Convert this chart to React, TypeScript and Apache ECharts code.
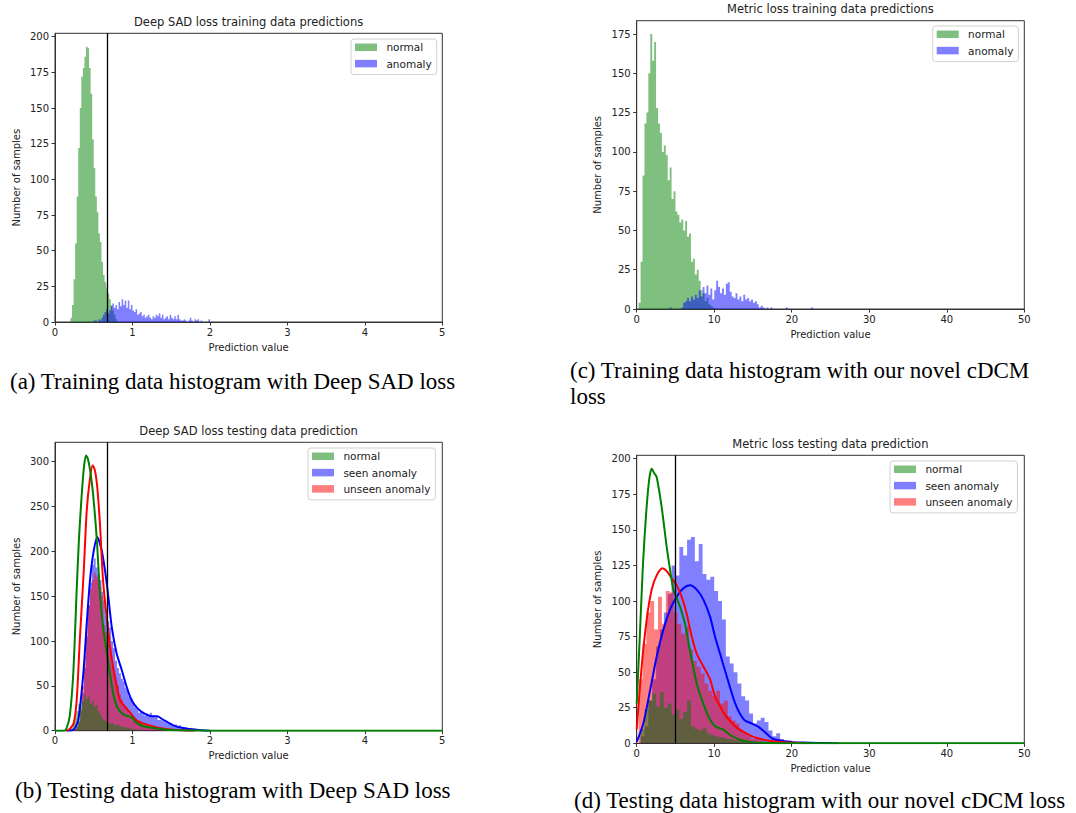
import React, { useEffect, useRef } from 'react';
import * as echarts from 'echarts';

// ---------------- Panel (a): Deep SAD loss – training data ----------------
const aBinWidth = 0.02;
const aNormalStart = 0.2;
const aNormalCounts = [3, 12, 30, 55, 88, 122, 150, 172, 178, 186, 193, 192, 178, 160, 128, 108, 88, 77, 62, 56, 42, 33, 28, 24, 20, 16, 12, 8, 5, 2];
const aAnomalyStart = 0.5;
const aAnomalyCounts = [1, 1, 0, 2, 1, 3, 5, 7, 9, 6, 8, 11, 13, 10, 12, 9, 14, 11, 16, 12, 15, 10, 15, 9, 12, 8, 7, 9, 5, 6, 7, 4, 5, 3, 4, 5, 3, 2, 4, 3, 5, 4, 6, 3, 5, 2, 3, 4, 2, 5, 3, 2, 4, 2, 5, 2, 1, 1, 2, 1, 0, 1, 3, 1, 0, 2, 1, 2, 0, 1, 0, 0, 0, 0, 2];
const aThreshold = 0.675;
const aYTicks = [0, 25, 50, 75, 100, 125, 150, 175, 200];

// ---------------- Panel (c): Metric loss – training data ----------------
const cBinWidth = 0.25;
const cNormalStart = 0.25;
const cNormalCounts = [4, 30, 85, 118, 125, 150, 175, 158, 170, 128, 118, 112, 100, 104, 98, 82, 90, 70, 75, 62, 60, 55, 57, 50, 56, 46, 48, 30, 32, 22, 25, 18, 12, 10, 5, 7, 3, 2, 1];
const cAnomalyStart = 4.25;
const cAnomalyCounts = [1, 0, 0, 0, 0, 0, 1, 4, 5, 7, 5, 8, 6, 9, 7, 12, 8, 14, 10, 15, 9, 13, 6, 12, 18, 14, 10, 13, 9, 16, 17, 11, 8, 7, 10, 6, 8, 5, 9, 6, 7, 5, 6, 4, 5, 3, 1, 2, 1, 0, 1, 0, 1, 0, 0, 0, 0, 0, 0, 0, 1, 0, 0, 0, 0, 0, 0, 0, 0, 0, 0, 0, 0, 1];
const cYTicks = [0, 25, 50, 75, 100, 125, 150, 175];

// ---------------- Panel (b): Deep SAD loss – testing data ----------------
const bBinWidth = 0.025;
const bSeenStart = 0.25;
const bSeenCounts = [2, 5, 10, 22, 42, 70, 105, 140, 165, 185, 192, 182, 175, 168, 155, 145, 128, 122, 115, 100, 92, 78, 70, 64, 58, 55, 48, 45, 38, 36, 30, 26, 24, 20, 21, 18, 17, 19, 16, 20, 17, 15, 16, 12, 12, 11, 10, 9, 8, 9, 7, 6, 7, 5, 6, 4, 3, 4, 2, 3, 2, 1, 2, 1, 1, 0, 1, 0, 1];
const bUnseenStart = 0.25;
const bUnseenCounts = [1, 4, 10, 25, 50, 85, 120, 140, 158, 168, 176, 172, 170, 160, 150, 118, 110, 100, 88, 75, 64, 56, 50, 40, 35, 30, 27, 22, 19, 16, 14, 12, 11, 10, 9, 8, 7, 6, 5, 4, 4, 3, 2, 2, 1, 1, 1];
const bNormalStart = 0.175;
const bNormalCounts = [1, 3, 8, 15, 22, 30, 38, 33, 40, 35, 38, 30, 33, 27, 28, 22, 18, 14, 12, 10, 9, 8, 9, 7, 6, 7, 5, 4, 5, 3, 4, 3, 2, 2, 2, 1, 1, 1, 1];
const bNormalKde = [[0, 0], [0.12, 0], [0.15, 3], [0.19, 16], [0.236, 64], [0.28, 157], [0.31, 215], [0.344, 262], [0.375, 295], [0.4, 307], [0.425, 303], [0.452, 291], [0.49, 265], [0.54, 213], [0.58, 153], [0.62, 116], [0.67, 86], [0.71, 64], [0.75, 42], [0.8, 27], [0.88, 18], [0.95, 16], [0.99, 15], [1.05, 9], [1.14, 5], [1.27, 3], [1.45, 1], [1.7, 0.3], [2.0, 0], [5, 0]];
const bSeenKde = [[0.15, 0], [0.237, 1], [0.3, 12], [0.366, 64], [0.41, 120], [0.452, 168], [0.495, 198], [0.546, 216], [0.603, 201], [0.645, 179], [0.689, 149], [0.732, 116], [0.796, 86], [0.861, 68], [0.925, 49], [0.99, 34], [1.054, 26], [1.119, 21], [1.183, 18], [1.25, 16], [1.32, 16], [1.4, 12], [1.528, 6], [1.657, 3], [1.83, 1], [2.0, 0]];
const bUnseenKde = [[0.15, 0], [0.19, 2], [0.24, 8], [0.28, 34], [0.32, 101], [0.37, 176], [0.41, 246], [0.45, 280], [0.486, 296], [0.516, 290], [0.546, 271], [0.58, 231], [0.62, 168], [0.67, 124], [0.71, 94], [0.75, 71], [0.8, 49], [0.84, 34], [0.9, 27], [0.97, 20], [1.05, 12], [1.18, 7], [1.35, 3], [1.53, 1], [1.8, 0]];
const bThreshold = 0.675;
const bYTicks = [0, 50, 100, 150, 200, 250, 300];

// ---------------- Panel (d): Metric loss – testing data ----------------
const dBinWidth = 0.5;
const dSeenStart = 0.5;
const dSeenCounts = [5, 12, 30, 45, 68, 80, 92, 105, 125, 118, 138, 132, 143, 145, 128, 140, 119, 115, 117, 107, 100, 87, 61, 56, 50, 42, 33, 30, 21, 14, 16, 18, 15, 9, 5, 7, 3, 2, 2, 1, 1, 0, 1, 0, 1, 0, 0, 1];
const dUnseenStart = 0.25;
const dUnseenCounts = [45, 70, 92, 100, 80, 103, 84, 107, 106, 92, 84, 77, 82, 66, 58, 54, 49, 42, 37, 33, 37, 28, 30, 19, 16, 14, 9, 7, 5, 3, 3, 2, 1, 1];
const dNormalStart = 0.5;
const dNormalCounts = [10, 24, 30, 35, 26, 36, 25, 28, 20, 24, 17, 22, 30, 12, 10, 9, 11, 7, 6, 5, 4, 4, 3, 3, 2, 2, 2, 1, 1, 1, 1, 1, 0, 1];
const dNormalKde = [[0, 28], [0.4, 75], [0.8, 125], [1.2, 160], [1.6, 185], [1.93, 193], [2.25, 190], [2.58, 187], [3.22, 166], [3.87, 138], [4.3, 122], [4.73, 108], [5.16, 102], [5.59, 96], [6.23, 84], [6.88, 65], [7.74, 42], [8.38, 31], [9.24, 19], [10.1, 12], [11.2, 9.5], [12.0, 6], [13.3, 2.5], [14.6, 1], [16.5, 0.3], [18, 0], [50, 0]];
const dSeenKde = [[0, 1], [0.86, 14], [1.72, 37], [2.58, 61], [3.44, 80], [4.3, 94], [5.16, 103], [6.02, 109], [6.88, 111], [7.74, 108], [8.6, 101], [9.46, 89], [10.1, 75], [10.75, 63], [11.4, 51], [12.0, 40], [12.7, 28], [13.3, 21], [13.97, 16], [14.8, 14], [15.7, 11.6], [16.3, 9], [16.98, 5.6], [17.6, 3], [18.5, 2], [19.8, 1], [21.5, 0.5], [24, 0.2], [26, 0]];
const dUnseenKde = [[0, 10], [0.64, 54], [1.29, 87], [1.93, 108], [2.58, 118], [3.31, 123], [3.87, 121], [4.51, 116], [5.16, 111], [5.8, 103], [6.45, 91], [7.1, 75], [7.74, 63], [8.6, 54], [9.46, 45], [10.1, 33], [10.75, 26], [11.4, 20], [12.0, 16], [12.9, 11], [13.8, 8], [14.6, 5.6], [15.5, 3.7], [16.8, 2], [18.5, 1], [20.5, 0.3], [22, 0]];
const dThreshold = 5.0;
const dYTicks = [0, 25, 50, 75, 100, 125, 150, 175, 200];

// ---------------- Texts ----------------
const titles = [
  'Deep SAD loss training data predictions',
  'Metric loss training data predictions',
  'Deep SAD loss testing data prediction',
  'Metric loss testing data prediction',
];
const captionA = '(a) Training data histogram with Deep SAD loss';
const captionC1 = '(c) Training data histogram with our novel cDCM';
const captionC2 = 'loss';
const captionB = '(b) Testing data histogram with Deep SAD loss';
const captionD = '(d) Testing data histogram with our novel cDCM loss';

// ---------------- Styles ----------------
const SANS = '"DejaVu Sans", sans-serif';
const SERIF = '"Liberation Serif", "Times New Roman", serif';
const INK = '#222';
const AXIS = '#333';
const GREEN = 'rgba(0,128,0,0.5)';
const BLUE = 'rgba(0,0,255,0.5)';
const RED = 'rgba(255,0,0,0.5)';
// legend patch (22 x 7.5) followed by empty room so that the label starts further right
const PATCH_ICON = 'path://M0 0H22V7.5H0Z M26.4 0';

function toSteps(start: number, width: number, counts: number[]) {
  const pts = counts.map((c, i) => [Number((start + i * width).toFixed(4)), c]);
  pts.push([Number((start + counts.length * width).toFixed(4)), 0]);
  return pts;
}

function hist(name: string, gi: number, start: number, width: number, counts: number[], color: string, extra: any = {}) {
  return {
    type: 'line',
    name,
    xAxisIndex: gi,
    yAxisIndex: gi,
    data: toSteps(start, width, counts),
    step: 'end',
    symbol: 'none',
    showSymbol: false,
    silent: true,
    lineStyle: { width: 0, color },
    itemStyle: { color },
    areaStyle: { color, opacity: 1 },
    emphasis: { disabled: true },
    z: 2,
    ...extra,
  };
}

function kde(name: string, gi: number, data: number[][], color: string) {
  return {
    type: 'line',
    name,
    xAxisIndex: gi,
    yAxisIndex: gi,
    data,
    smooth: 0.25,
    symbol: 'none',
    showSymbol: false,
    silent: true,
    lineStyle: { width: 2, color },
    itemStyle: { color },
    emphasis: { disabled: true },
    z: 4,
  };
}

function threshold(v: number) {
  return {
    silent: true,
    symbol: ['none', 'none'],
    label: { show: false },
    lineStyle: { color: '#000', width: 1.3, type: 'solid' },
    emphasis: { disabled: true },
    data: [{ xAxis: v }],
  };
}

function xAxisFor(gi: number, max: number, interval: number) {
  return {
    type: 'value',
    gridIndex: gi,
    min: 0,
    max,
    interval,
    name: 'Prediction value',
    nameLocation: 'middle',
    nameGap: 20,
    nameTextStyle: { fontFamily: SANS, fontSize: 10, color: INK },
    axisLine: { show: true, onZero: false, lineStyle: { color: AXIS, width: 1 } },
    axisTick: { show: true, length: 3.5, lineStyle: { color: AXIS, width: 1 } },
    axisLabel: { fontFamily: SANS, fontSize: 10, color: INK, margin: 5 },
    splitLine: { show: false },
  };
}

function yAxisFor(gi: number, max: number, ticks: number[]) {
  return {
    type: 'value',
    gridIndex: gi,
    min: 0,
    max,
    name: 'Number of samples',
    nameLocation: 'middle',
    nameGap: 34,
    nameRotate: 90,
    nameTextStyle: { fontFamily: SANS, fontSize: 10, color: INK },
    axisLine: { show: true, onZero: false, lineStyle: { color: AXIS, width: 1 } },
    axisTick: { show: true, length: 3.5, customValues: ticks, lineStyle: { color: AXIS, width: 1 } },
    axisLabel: { fontFamily: SANS, fontSize: 10, color: INK, margin: 6, customValues: ticks },
    splitLine: { show: false },
  };
}

function legendFor(left: number, top: number, items: { name: string; color: string }[]) {
  return {
    orient: 'vertical',
    left,
    top,
    padding: [2.3, 5, 5, 4],
    itemGap: 4.3,
    itemWidth: 26.4,
    itemHeight: 7.5,
    icon: PATCH_ICON,
    selectedMode: false,
    borderColor: '#d0d0d0',
    borderWidth: 1,
    borderRadius: 3,
    backgroundColor: 'rgba(255,255,255,0.85)',
    textStyle: { fontFamily: SANS, fontSize: 10.5, color: INK, lineHeight: 12 },
    itemStyle: { borderWidth: 0 },
    data: items.map((it) => ({ name: it.name, itemStyle: { color: it.color, borderWidth: 0 } })),
  };
}

function text(t: string, x: number, y: number, size: number, family: string, align: string, color = INK) {
  return {
    type: 'text',
    x,
    y,
    silent: true,
    style: {
      text: t,
      fill: color,
      fontSize: size,
      fontFamily: family,
      align,
      verticalAlign: 'middle',
      textAlign: align,
      textVerticalAlign: 'middle',
    },
  };
}

function buildOption() {
  const gridBase = { show: true, borderColor: AXIS, borderWidth: 1, backgroundColor: 'transparent', containLabel: false };
  return {
    animation: false,
    grid: [
      { ...gridBase, left: 55, top: 33.3, width: 387.3, height: 288.7 },
      { ...gridBase, left: 636.7, top: 20.7, width: 387.6, height: 288.3 },
      { ...gridBase, left: 55, top: 442.3, width: 387.3, height: 288.4 },
      { ...gridBase, left: 636.7, top: 455.3, width: 387.6, height: 288 },
    ],
    xAxis: [xAxisFor(0, 5, 1), xAxisFor(1, 50, 10), xAxisFor(2, 5, 1), xAxisFor(3, 50, 10)],
    yAxis: [yAxisFor(0, 202.4, aYTicks), yAxisFor(1, 183.5, cYTicks), yAxisFor(2, 321.6, bYTicks), yAxisFor(3, 202.4, dYTicks)],
    legend: [
      legendFor(351, 39, [{ name: 'normal', color: GREEN }, { name: 'anomaly', color: BLUE }]),
      legendFor(932.7, 26, [{ name: 'normal', color: GREEN }, { name: 'anomaly', color: BLUE }]),
      legendFor(308, 448, [{ name: 'normal', color: GREEN }, { name: 'seen anomaly', color: BLUE }, { name: 'unseen anomaly', color: RED }]),
      legendFor(890, 461, [{ name: 'normal', color: GREEN }, { name: 'seen anomaly', color: BLUE }, { name: 'unseen anomaly', color: RED }]),
    ],
    series: [
      // (a)
      hist('normal', 0, aNormalStart, aBinWidth, aNormalCounts, GREEN, { markLine: threshold(aThreshold) }),
      hist('anomaly', 0, aAnomalyStart, aBinWidth, aAnomalyCounts, BLUE),
      // (c)
      hist('normal', 1, cNormalStart, cBinWidth, cNormalCounts, GREEN),
      hist('anomaly', 1, cAnomalyStart, cBinWidth, cAnomalyCounts, BLUE),
      // (b)
      hist('seen anomaly', 2, bSeenStart, bBinWidth, bSeenCounts, BLUE),
      hist('unseen anomaly', 2, bUnseenStart, bBinWidth, bUnseenCounts, RED),
      hist('normal', 2, bNormalStart, bBinWidth, bNormalCounts, GREEN, { markLine: threshold(bThreshold) }),
      kde('kde seen', 2, bSeenKde, '#0000ff'),
      kde('kde unseen', 2, bUnseenKde, '#ff0000'),
      kde('kde normal', 2, bNormalKde, '#008000'),
      // (d)
      hist('seen anomaly', 3, dSeenStart, dBinWidth, dSeenCounts, BLUE),
      hist('unseen anomaly', 3, dUnseenStart, dBinWidth, dUnseenCounts, RED),
      hist('normal', 3, dNormalStart, dBinWidth, dNormalCounts, GREEN, { markLine: threshold(dThreshold) }),
      kde('kde seen d', 3, dSeenKde, '#0000ff'),
      kde('kde unseen d', 3, dUnseenKde, '#ff0000'),
      kde('kde normal d', 3, dNormalKde, '#008000'),
    ],
    graphic: [
      text(titles[0], 248.6, 21.7, 11.5, SANS, 'center'),
      text(titles[1], 830.4, 9, 11.5, SANS, 'center'),
      text(titles[2], 248.6, 430.7, 11.5, SANS, 'center'),
      text(titles[3], 830.4, 444, 11.5, SANS, 'center'),
      text(captionA, 10, 381, 23, SERIF, 'left', '#000'),
      text(captionC1, 570, 370, 23, SERIF, 'left', '#000'),
      text(captionC2, 570, 396, 23, SERIF, 'left', '#000'),
      text(captionB, 15, 790, 23, SERIF, 'left', '#000'),
      text(captionD, 574, 800, 23, SERIF, 'left', '#000'),
    ],
  };
}

export default function App() {
  const ref = useRef<HTMLDivElement>(null);
  useEffect(() => {
    document.body.style.margin = '0';
    const chart = echarts.init(ref.current as HTMLDivElement, null, { renderer: 'svg' });
    chart.setOption(buildOption() as any);
    return () => chart.dispose();
  }, []);
  return <div ref={ref} style={{ width: 1076, height: 813 }} />;
}
